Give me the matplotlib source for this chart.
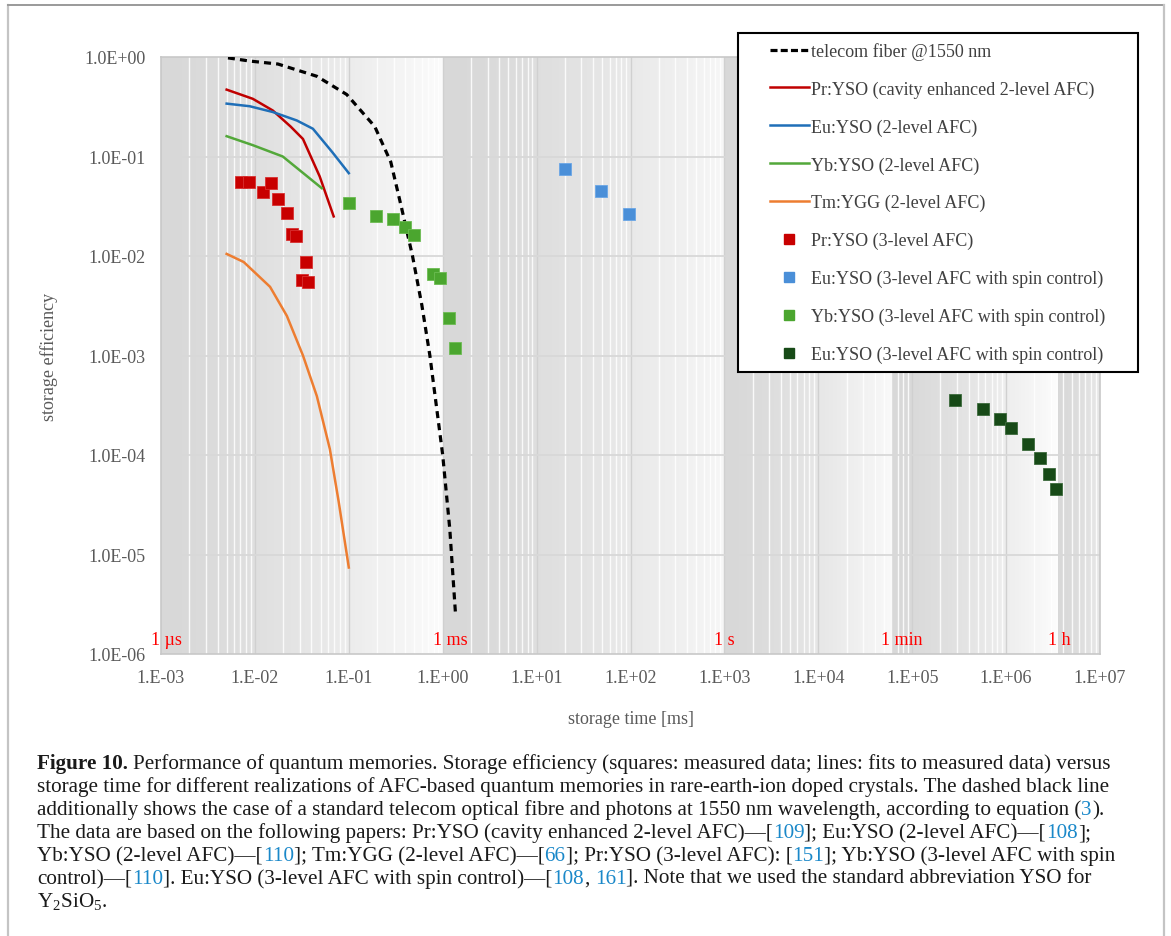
import matplotlib
matplotlib.use("Agg")
import matplotlib.pyplot as plt
import matplotlib.transforms as mtransforms
import numpy as np
from matplotlib.lines import Line2D
from matplotlib.legend_handler import HandlerLine2D
from matplotlib.ticker import FuncFormatter, FixedLocator

# --- data ---
fiber_t = [0.00516, 0.00885, 0.0176, 0.0457, 0.095, 0.189, 0.28, 0.366, 0.477, 0.6, 0.73, 1.0, 1.19, 1.37]
fiber_eff = [0.98, 0.91, 0.85, 0.64, 0.42, 0.20, 0.088, 0.030, 0.010, 3.2e-3, 1.0e-3, 1.0e-4, 1.8e-5, 2.5e-6]

pr_cav_t = [0.005, 0.0095, 0.0155, 0.024, 0.0325, 0.049, 0.069]
pr_cav_eff = [0.47, 0.38, 0.29, 0.20, 0.15, 0.063, 0.025]

eu_2l_t = [0.005, 0.0088, 0.0155, 0.028, 0.0415, 0.067, 0.1]
eu_2l_eff = [0.34, 0.32, 0.28, 0.23, 0.19, 0.11, 0.068]

yb_2l_t = [0.005, 0.0095, 0.0198, 0.0516]
yb_2l_eff = [0.16, 0.13, 0.10, 0.048]

tm_2l_t = [0.005, 0.0076, 0.0145, 0.0219, 0.0325, 0.0457, 0.0628, 0.078, 0.1]
tm_2l_eff = [0.0105, 0.0087, 0.0049, 0.0025, 0.001, 3.9e-4, 1.15e-4, 3.4e-5, 7.4e-6]

pr_3l_t = [0.00705, 0.00863, 0.0121, 0.0149, 0.0176, 0.0221, 0.0246, 0.0275, 0.0349, 0.0314, 0.0372]
pr_3l_eff = [0.056, 0.055, 0.0437, 0.054, 0.037, 0.0272, 0.0168, 0.0158, 0.0087, 0.0058, 0.0055]

eu_spin_t = [20, 48, 97]
eu_spin_eff = [0.075, 0.045, 0.0264]

yb_spin_t = [0.1, 0.197, 0.296, 0.394, 0.49, 0.79, 0.94, 1.17, 1.36]
yb_spin_eff = [0.034, 0.0254, 0.0235, 0.0194, 0.0163, 0.0066, 0.006, 0.0024, 0.0012]

eu_long_t = [2.84e5, 5.7e5, 8.6e5, 1.14e6, 1.71e6, 2.3e6, 2.85e6, 3.4e6]
eu_long_eff = [3.6e-4, 2.88e-4, 2.3e-4, 1.87e-4, 1.29e-4, 9.3e-5, 6.4e-5, 4.6e-5]

band_start = [1e-3, 1e0, 1e3, 6e4, 3.6e6]
band_end = [1e0, 1e3, 6e4, 3.6e6, 1e7]
band_names = ["1 µs", "1 ms", "1 s", "1 min", "1 h"]
band_light = [0.985, 0.965, 0.975, 0.99, 0.905]

serif = ["Liberation Serif", "DejaVu Serif"]
plt.rcParams["font.family"] = serif
plt.rcParams["mathtext.fontset"] = "custom"
plt.rcParams["mathtext.rm"] = "Liberation Serif"

W, H = 1171, 937
fig = plt.figure(figsize=(W / 100, H / 100), dpi=100)
ax = fig.add_axes([161 / W, 1 - 655 / H, (1100 - 161) / W, (655 - 58) / H])
ax.set_xscale("log")
ax.set_yscale("log")
ax.set_xlim(1e-3, 1e7)
ax.set_ylim(1e-6, 1)

# shaded background bands, darker at the start of each time unit
for a, b, lite in zip(band_start, band_end, band_light):
    la, lb = np.log10(a), np.log10(b)
    n = 80
    edges = np.linspace(la, lb, n + 1)
    for i in range(n):
        f = (i + 0.5) / n
        g = 0.845 + (lite - 0.845) * f ** 1.4
        ax.axvspan(10 ** edges[i], 10 ** edges[i + 1], color=(g, g, g), lw=0, zorder=0)

# grid
for d in range(-3, 7):
    for m in range(2, 10):
        ax.axvline(m * 10.0 ** d, color="white", lw=1.0, alpha=0.85, zorder=0.5)
for d in range(-2, 7):
    ax.axvline(10.0 ** d, color="#d0d0d0", lw=1.0, zorder=0.6)
for d in range(-5, 0):
    ax.axhline(10.0 ** d, color="#d8d8d8", lw=1.3, zorder=0.6)

for s in ax.spines.values():
    s.set_color("#c8c8c8")
    s.set_linewidth(1.2)

ax.xaxis.set_major_locator(FixedLocator([10.0 ** d for d in range(-3, 8)]))
ax.yaxis.set_major_locator(FixedLocator([10.0 ** d for d in range(-6, 1)]))
ax.xaxis.set_minor_locator(FixedLocator([]))
ax.yaxis.set_minor_locator(FixedLocator([]))
ax.xaxis.set_major_formatter(FuncFormatter(lambda v, p: "1.E%+03d" % round(np.log10(v))))
ax.yaxis.set_major_formatter(FuncFormatter(lambda v, p: "1.0E%+03d" % round(np.log10(v))))
ax.tick_params(axis="both", length=0, labelsize=13, labelcolor="#595959")
ax.tick_params(axis="x", pad=11)
ax.tick_params(axis="y", pad=11)

ax.set_xlabel("storage time [ms]", fontsize=13, color="#595959", labelpad=17)
ax.set_ylabel("storage efficiency", fontsize=13, color="#595959", labelpad=19)

# series
ax.plot(fiber_t, fiber_eff, color="black", lw=2.3, ls=(0, (2.2, 1.6)), zorder=3)
ax.plot(pr_cav_t, pr_cav_eff, color="#c00000", lw=1.8, zorder=3)
ax.plot(eu_2l_t, eu_2l_eff, color="#1f6fb8", lw=1.8, zorder=3)
ax.plot(yb_2l_t, yb_2l_eff, color="#53a83a", lw=1.8, zorder=3)
ax.plot(tm_2l_t, tm_2l_eff, color="#ed7d31", lw=1.8, zorder=3)

sq = dict(marker="s", ls="none", markersize=8.2, markeredgewidth=0.6, zorder=4)
ax.plot(pr_3l_t, pr_3l_eff, color="#c80000", markeredgecolor="#d83030", **sq)
ax.plot(eu_spin_t, eu_spin_eff, color="#4a8fd8", markeredgecolor="#6aa6e6", **sq)
ax.plot(yb_spin_t, yb_spin_eff, color="#4ba62f", markeredgecolor="#6cbc52", **sq)
ax.plot(eu_long_t, eu_long_eff, color="#174a17", markeredgecolor="#3c6a3c", **sq)

# time unit labels
for x0, name in zip(band_start, band_names):
    tr = mtransforms.offset_copy(ax.transData, fig=fig, x=-10, y=0, units="dots")
    ax.text(x0, 1.15e-6, name, color="#ff0000", fontsize=13, ha="left", va="bottom",
            transform=tr, zorder=5)

# legend
handles = [
    Line2D([], [], color="black", lw=2.3, ls=(0, (2.2, 1.0))),
    Line2D([], [], color="#c00000", lw=1.8),
    Line2D([], [], color="#1f6fb8", lw=1.8),
    Line2D([], [], color="#53a83a", lw=1.8),
    Line2D([], [], color="#ed7d31", lw=1.8),
    Line2D([], [], color="#c80000", marker="s", ls="none", markersize=7),
    Line2D([], [], color="#4a8fd8", marker="s", ls="none", markersize=7),
    Line2D([], [], color="#4ba62f", marker="s", ls="none", markersize=7),
    Line2D([], [], color="#174a17", marker="s", ls="none", markersize=7),
]
labels = [
    "telecom fiber @1550 nm",
    "Pr:YSO (cavity enhanced 2-level AFC)",
    "Eu:YSO (2-level AFC)",
    "Yb:YSO (2-level AFC)",
    "Tm:YGG (2-level AFC)",
    "Pr:YSO (3-level AFC)",
    "Eu:YSO (3-level AFC with spin control)",
    "Yb:YSO (3-level AFC with spin control)",
    "Eu:YSO (3-level AFC with spin control)",
]
leg = fig.legend(handles, labels, loc="upper left",
                 bbox_to_anchor=(738 / W, 1 - 372 / H, 400 / W, 338 / H),
                 mode="expand", borderaxespad=0, fontsize=13, labelspacing=1.14,
                 handlelength=3.45, handletextpad=0.1, borderpad=0.5, fancybox=False,
                 framealpha=1, edgecolor="black", numpoints=1,
                 handler_map={Line2D: HandlerLine2D(xpad=1.25)})
leg.get_frame().set_linewidth(1.5)
for t in leg.get_texts():
    t.set_color("#404040")

# page frame (top, left, right)
fig.add_artist(Line2D([8 / W, 8 / W], [0, 1 - 6 / H], color="#c4c4c4", lw=1.6))
fig.add_artist(Line2D([8 / W, 1164 / W], [1 - 6 / H, 1 - 6 / H], color="#9a9a9a", lw=1.4))
fig.add_artist(Line2D([1164 / W, 1164 / W], [0, 1 - 6 / H], color="#c4c4c4", lw=1.6))

# caption with coloured reference numbers
blue = "#1a88c9"
ink = "#1a1a1a"
caption = [
    [("Figure 10.", ink, "bold"),
     ("Performance of quantum memories. Storage efficiency (squares: measured data; lines: fits to measured data) versus", ink, "normal")],
    [("storage time for different realizations of AFC-based quantum memories in rare-earth-ion doped crystals. The dashed black line", ink, "normal")],
    [("additionally shows the case of a standard telecom optical fibre and photons at 1550 nm wavelength, according to equation (", ink, "normal"),
     ("3", blue, "normal"), (").", ink, "normal")],
    [("The data are based on the following papers: Pr:YSO (cavity enhanced 2-level AFC)—[", ink, "normal"),
     ("109", blue, "normal"), ("]; Eu:YSO (2-level AFC)—[", ink, "normal"), ("108", blue, "normal"), ("];", ink, "normal")],
    [("Yb:YSO (2-level AFC)—[", ink, "normal"), ("110", blue, "normal"),
     ("]; Tm:YGG (2-level AFC)—[", ink, "normal"), ("66", blue, "normal"),
     ("]; Pr:YSO (3-level AFC): [", ink, "normal"), ("151", blue, "normal"),
     ("]; Yb:YSO (3-level AFC with spin", ink, "normal")],
    [("control)—[", ink, "normal"), ("110", blue, "normal"),
     ("]. Eu:YSO (3-level AFC with spin control)—[", ink, "normal"), ("108", blue, "normal"),
     (",", ink, "normal"), ("161", blue, "normal"),
     ("]. Note that we used the standard abbreviation YSO for", ink, "normal")],
    [(r"Y$_\mathregular{2}$SiO$_\mathregular{5}$.", ink, "normal")],
]
cap_size = 15.2
renderer = fig.canvas.get_renderer()


def text_width(s, weight="normal"):
    t = fig.text(0, 0, s, fontsize=cap_size, fontweight=weight)
    w = t.get_window_extent(renderer).width
    t.remove()
    return w


gap = text_width("a a") - 2 * text_width("a")
x0 = 37
for i, parts in enumerate(caption):
    y = 1 - (769 + 23 * i) / H
    if parts[0][2] == "bold":
        xs = [x0, x0 + text_width(parts[0][0], "bold") + gap]
    else:
        xs = []
        so_far = ""
        for k, (txt, col, wt) in enumerate(parts):
            so_far += (" " if txt == "161" else "") + txt
            if k == 0:
                xs.append(x0)
            else:
                xs.append(x0 + text_width(so_far) - text_width(txt))
    for (txt, col, wt), xp in zip(parts, xs):
        fig.text(xp / W, y, txt, color=col, fontweight=wt, fontsize=cap_size,
                 ha="left", va="baseline")

fig.savefig("out.png", dpi=100, facecolor="white")
